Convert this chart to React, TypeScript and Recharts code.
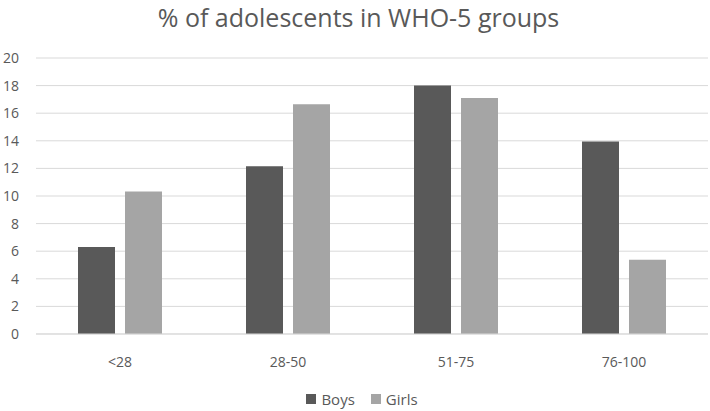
import { BarChart, Bar, XAxis, YAxis, CartesianGrid } from 'recharts'

const groups = ['<28', '28-50', '51-75', '76-100']
const boys = [6.3, 12.15, 18.0, 13.95]
const girls = [10.33, 16.65, 17.1, 5.38]
const yTicks = [0, 2, 4, 6, 8, 10, 12, 14, 16, 18, 20]

const data = groups.map((g, i) => ({ group: g, Boys: boys[i], Girls: girls[i] }))

const FONT = '"Open Sans", "Noto Sans", sans-serif'
const TEXT = '#595959'

export default function App() {
  return (
    <div
      style={{
        position: 'absolute',
        left: 0,
        top: 0,
        width: 710,
        height: 411,
        background: '#ffffff',
        fontFamily: FONT,
      }}
    >
      {/* Title */}
      <div
        style={{
          position: 'absolute',
          top: 0,
          left: 0,
          width: 717,
          textAlign: 'center',
          fontSize: 25,
          color: TEXT,
          whiteSpace: 'nowrap',
        }}
      >
        % of adolescents in WHO-5 groups
      </div>

      <BarChart
        width={710}
        height={411}
        data={data}
        margin={{ top: 58, right: 2, bottom: 47, left: 0 }}
        barGap={10}
        barSize={37}
      >
        <CartesianGrid vertical={false} stroke="#d9d9d9" strokeWidth={1} />
        <XAxis
          dataKey="group"
          height={30}
          axisLine={{ stroke: '#d9d9d9' }}
          tickLine={false}
          tickMargin={17}
          tick={{ fill: TEXT, fontSize: 14, fontFamily: FONT }}
        />
        <YAxis
          width={36}
          domain={[0, 20]}
          ticks={yTicks}
          axisLine={false}
          tickLine={false}
          tickMargin={11}
          tick={{ fill: TEXT, fontSize: 14, fontFamily: FONT }}
        />
        <Bar dataKey="Boys" fill="#595959" isAnimationActive={false} />
        <Bar dataKey="Girls" fill="#a5a5a5" isAnimationActive={false} />
      </BarChart>

      {/* Legend */}
      <div
        style={{
          position: 'absolute',
          top: 389,
          left: 0,
          width: 724,
          display: 'flex',
          justifyContent: 'center',
          gap: 16,
          fontSize: 15,
          color: TEXT,
        }}
      >
        {[
          { name: 'Boys', color: '#595959' },
          { name: 'Girls', color: '#a5a5a5' },
        ].map((item) => (
          <div key={item.name} style={{ display: 'flex', alignItems: 'center', gap: 5 }}>
            <span style={{ width: 10, height: 10, background: item.color, display: 'inline-block' }} />
            <span>{item.name}</span>
          </div>
        ))}
      </div>
    </div>
  )
}
